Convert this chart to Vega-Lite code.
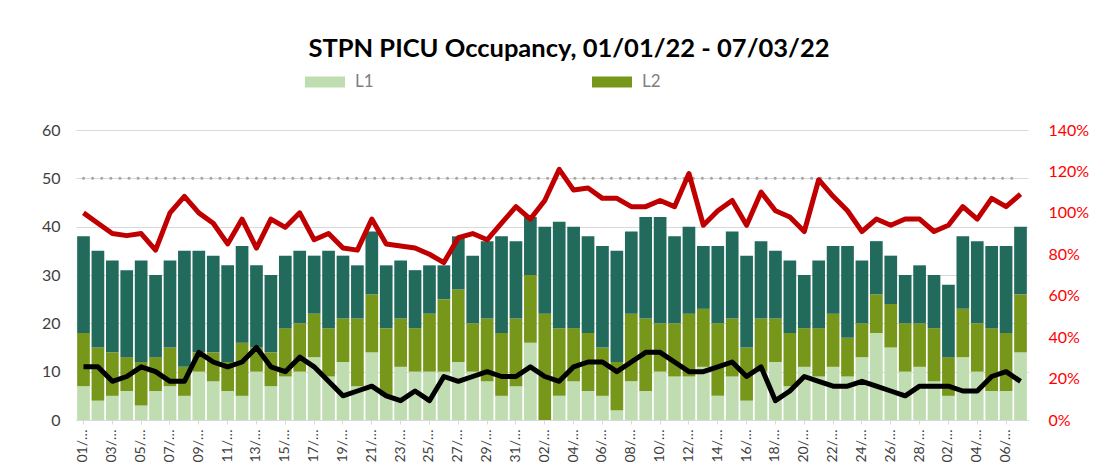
{
  "$schema": "https://vega.github.io/schema/vega-lite/v6.json",
  "width": 952,
  "height": 290,
  "autosize": {"type": "none"},
  "padding": {"left": 76, "top": 130, "right": 87, "bottom": 50},
  "background": "white",
  "config": {
    "font": "Lato",
    "view": {"stroke": null}
  },
  "title": {
    "text": "STPN PICU Occupancy, 01/01/22 - 07/03/22",
    "font": "Lato",
    "fontSize": 25.5,
    "fontWeight": "bold",
    "color": "#000000",
    "anchor": "middle",
    "dx": 17,
    "offset": 0
  },
  "data": {
    "values": [
      {"d": "01/01/22", "L1": 7, "L2": 11, "L3": 20, "count": 11, "occupancy": 1.00, "cap": 50},
      {"d": "02/01/22", "L1": 4, "L2": 11, "L3": 20, "count": 11, "occupancy": 0.95, "cap": 50},
      {"d": "03/01/22", "L1": 5, "L2": 9, "L3": 19, "count": 8, "occupancy": 0.90, "cap": 50},
      {"d": "04/01/22", "L1": 6, "L2": 7, "L3": 18, "count": 9, "occupancy": 0.89, "cap": 50},
      {"d": "05/01/22", "L1": 3, "L2": 9, "L3": 21, "count": 11, "occupancy": 0.90, "cap": 50},
      {"d": "06/01/22", "L1": 6, "L2": 7, "L3": 17, "count": 10, "occupancy": 0.82, "cap": 50},
      {"d": "07/01/22", "L1": 7, "L2": 8, "L3": 18, "count": 8, "occupancy": 1.00, "cap": 50},
      {"d": "08/01/22", "L1": 5, "L2": 6, "L3": 24, "count": 8, "occupancy": 1.08, "cap": 50},
      {"d": "09/01/22", "L1": 10, "L2": 4, "L3": 21, "count": 14, "occupancy": 1.00, "cap": 50},
      {"d": "10/01/22", "L1": 8, "L2": 6, "L3": 20, "count": 12, "occupancy": 0.95, "cap": 50},
      {"d": "11/01/22", "L1": 6, "L2": 6, "L3": 20, "count": 11, "occupancy": 0.85, "cap": 50},
      {"d": "12/01/22", "L1": 5, "L2": 11, "L3": 20, "count": 12, "occupancy": 0.97, "cap": 50},
      {"d": "13/01/22", "L1": 10, "L2": 5, "L3": 17, "count": 15, "occupancy": 0.83, "cap": 50},
      {"d": "14/01/22", "L1": 7, "L2": 7, "L3": 16, "count": 11, "occupancy": 0.97, "cap": 50},
      {"d": "15/01/22", "L1": 9, "L2": 10, "L3": 15, "count": 10, "occupancy": 0.93, "cap": 50},
      {"d": "16/01/22", "L1": 10, "L2": 10, "L3": 15, "count": 13, "occupancy": 1.00, "cap": 50},
      {"d": "17/01/22", "L1": 13, "L2": 9, "L3": 12, "count": 11, "occupancy": 0.87, "cap": 50},
      {"d": "18/01/22", "L1": 9, "L2": 10, "L3": 16, "count": 8, "occupancy": 0.90, "cap": 50},
      {"d": "19/01/22", "L1": 12, "L2": 9, "L3": 13, "count": 5, "occupancy": 0.83, "cap": 50},
      {"d": "20/01/22", "L1": 7, "L2": 14, "L3": 11, "count": 6, "occupancy": 0.82, "cap": 50},
      {"d": "21/01/22", "L1": 14, "L2": 12, "L3": 13, "count": 7, "occupancy": 0.97, "cap": 50},
      {"d": "22/01/22", "L1": 5, "L2": 14, "L3": 13, "count": 5, "occupancy": 0.85, "cap": 50},
      {"d": "23/01/22", "L1": 11, "L2": 10, "L3": 12, "count": 4, "occupancy": 0.84, "cap": 50},
      {"d": "24/01/22", "L1": 10, "L2": 9, "L3": 12, "count": 6, "occupancy": 0.83, "cap": 50},
      {"d": "25/01/22", "L1": 10, "L2": 12, "L3": 10, "count": 4, "occupancy": 0.80, "cap": 50},
      {"d": "26/01/22", "L1": 10, "L2": 15, "L3": 7, "count": 9, "occupancy": 0.76, "cap": 50},
      {"d": "27/01/22", "L1": 12, "L2": 15, "L3": 11, "count": 8, "occupancy": 0.88, "cap": 50},
      {"d": "28/01/22", "L1": 10, "L2": 10, "L3": 14, "count": 9, "occupancy": 0.90, "cap": 50},
      {"d": "29/01/22", "L1": 8, "L2": 13, "L3": 16, "count": 10, "occupancy": 0.87, "cap": 50},
      {"d": "30/01/22", "L1": 5, "L2": 13, "L3": 20, "count": 9, "occupancy": 0.95, "cap": 50},
      {"d": "31/01/22", "L1": 7, "L2": 14, "L3": 16, "count": 9, "occupancy": 1.03, "cap": 50},
      {"d": "01/02/22", "L1": 16, "L2": 14, "L3": 12, "count": 11, "occupancy": 0.97, "cap": 50},
      {"d": "02/02/22", "L1": 0, "L2": 22, "L3": 18, "count": 9, "occupancy": 1.06, "cap": 50},
      {"d": "03/02/22", "L1": 5, "L2": 14, "L3": 22, "count": 8, "occupancy": 1.21, "cap": 50},
      {"d": "04/02/22", "L1": 8, "L2": 11, "L3": 21, "count": 11, "occupancy": 1.11, "cap": 50},
      {"d": "05/02/22", "L1": 6, "L2": 12, "L3": 20, "count": 12, "occupancy": 1.12, "cap": 50},
      {"d": "06/02/22", "L1": 5, "L2": 10, "L3": 21, "count": 12, "occupancy": 1.07, "cap": 50},
      {"d": "07/02/22", "L1": 2, "L2": 10, "L3": 23, "count": 10, "occupancy": 1.07, "cap": 50},
      {"d": "08/02/22", "L1": 8, "L2": 14, "L3": 17, "count": 12, "occupancy": 1.03, "cap": 50},
      {"d": "09/02/22", "L1": 6, "L2": 15, "L3": 21, "count": 14, "occupancy": 1.03, "cap": 50},
      {"d": "10/02/22", "L1": 10, "L2": 10, "L3": 22, "count": 14, "occupancy": 1.06, "cap": 50},
      {"d": "11/02/22", "L1": 9, "L2": 11, "L3": 18, "count": 12, "occupancy": 1.03, "cap": 50},
      {"d": "12/02/22", "L1": 9, "L2": 13, "L3": 18, "count": 10, "occupancy": 1.19, "cap": 50},
      {"d": "13/02/22", "L1": 11, "L2": 12, "L3": 13, "count": 10, "occupancy": 0.94, "cap": 50},
      {"d": "14/02/22", "L1": 5, "L2": 15, "L3": 16, "count": 11, "occupancy": 1.01, "cap": 50},
      {"d": "15/02/22", "L1": 9, "L2": 12, "L3": 18, "count": 12, "occupancy": 1.06, "cap": 50},
      {"d": "16/02/22", "L1": 4, "L2": 11, "L3": 19, "count": 9, "occupancy": 0.94, "cap": 50},
      {"d": "17/02/22", "L1": 10, "L2": 11, "L3": 16, "count": 11, "occupancy": 1.10, "cap": 50},
      {"d": "18/02/22", "L1": 12, "L2": 9, "L3": 14, "count": 4, "occupancy": 1.01, "cap": 50},
      {"d": "19/02/22", "L1": 7, "L2": 11, "L3": 15, "count": 6, "occupancy": 0.98, "cap": 50},
      {"d": "20/02/22", "L1": 11, "L2": 8, "L3": 11, "count": 9, "occupancy": 0.91, "cap": 50},
      {"d": "21/02/22", "L1": 9, "L2": 10, "L3": 14, "count": 8, "occupancy": 1.16, "cap": 50},
      {"d": "22/02/22", "L1": 11, "L2": 11, "L3": 14, "count": 7, "occupancy": 1.08, "cap": 50},
      {"d": "23/02/22", "L1": 9, "L2": 8, "L3": 19, "count": 7, "occupancy": 1.01, "cap": 50},
      {"d": "24/02/22", "L1": 13, "L2": 7, "L3": 13, "count": 8, "occupancy": 0.91, "cap": 50},
      {"d": "25/02/22", "L1": 18, "L2": 8, "L3": 11, "count": 7, "occupancy": 0.97, "cap": 50},
      {"d": "26/02/22", "L1": 15, "L2": 9, "L3": 10, "count": 6, "occupancy": 0.94, "cap": 50},
      {"d": "27/02/22", "L1": 10, "L2": 10, "L3": 10, "count": 5, "occupancy": 0.97, "cap": 50},
      {"d": "28/02/22", "L1": 11, "L2": 9, "L3": 12, "count": 7, "occupancy": 0.97, "cap": 50},
      {"d": "01/03/22", "L1": 8, "L2": 11, "L3": 11, "count": 7, "occupancy": 0.91, "cap": 50},
      {"d": "02/03/22", "L1": 5, "L2": 8, "L3": 15, "count": 7, "occupancy": 0.94, "cap": 50},
      {"d": "03/03/22", "L1": 13, "L2": 10, "L3": 15, "count": 6, "occupancy": 1.03, "cap": 50},
      {"d": "04/03/22", "L1": 10, "L2": 10, "L3": 17, "count": 6, "occupancy": 0.97, "cap": 50},
      {"d": "05/03/22", "L1": 6, "L2": 13, "L3": 17, "count": 9, "occupancy": 1.07, "cap": 50},
      {"d": "06/03/22", "L1": 6, "L2": 12, "L3": 18, "count": 10, "occupancy": 1.03, "cap": 50},
      {"d": "07/03/22", "L1": 14, "L2": 12, "L3": 14, "count": 8, "occupancy": 1.09, "cap": 50}
    ]
  },
  "encoding": {
    "x": {
      "field": "d",
      "type": "nominal",
      "sort": null,
      "title": null,
      "scale": {"paddingInner": 0.12, "paddingOuter": 0.08},
      "axis": {
        "values": ["01/01/22", "03/01/22", "05/01/22", "07/01/22", "09/01/22", "11/01/22", "13/01/22", "15/01/22", "17/01/22", "19/01/22", "21/01/22", "23/01/22", "25/01/22", "27/01/22", "29/01/22", "31/01/22", "02/02/22", "04/02/22", "06/02/22", "08/02/22", "10/02/22", "12/02/22", "14/02/22", "16/02/22", "18/02/22", "20/02/22", "22/02/22", "24/02/22", "26/02/22", "28/02/22", "02/03/22", "04/03/22", "06/03/22"],
        "labelExpr": "slice(datum.label, 0, 3) + '…'",
        "labelAngle": -90,
        "labelFontSize": 14,
        "labelColor": "#404040",
        "labelPadding": 5,
        "domainColor": "#D9D9D9",
        "domainWidth": 1,
        "tickColor": "#D9D9D9",
        "tickSize": 4,
        "ticks": true
      }
    }
  },
  "layer": [
    {
      "layer": [
        {
          "transform": [{"fold": ["L1", "L2", "L3"], "as": ["level", "patients"]}],
          "mark": {"type": "bar"},
          "encoding": {
            "y": {
              "field": "patients",
              "type": "quantitative",
              "stack": "zero",
              "scale": {"domain": [0, 60]},
              "title": null,
              "axis": {
                "values": [0, 10, 20, 30, 40, 50, 60],
                "labelFontSize": 16,
                "labelColor": "#404040",
                "labelPadding": 16,
                "domain": false,
                "ticks": false,
                "gridColor": "#D9D9D9",
                "gridWidth": 1
              }
            },
            "color": {
              "field": "level",
              "type": "nominal",
              "scale": {"domain": ["L1", "L2", "L3"], "range": ["#BFDDB0", "#76971A", "#216A5C"]},
              "legend": {
                "values": ["L1", "L2"],
                "title": null,
                "orient": "none",
                "direction": "horizontal",
                "legendX": 229,
                "legendY": -68,
                "symbolType": "M-1,-0.275H1V0.275H-1Z",
                "symbolSize": 1600,
                "symbolStrokeWidth": 0,
                "labelFontSize": 17,
                "labelColor": "#7F7F7F",
                "labelOffset": 10,
                "columnPadding": 218
              }
            },
            "order": {"field": "level", "type": "nominal", "sort": "ascending"}
          }
        },
        {
          "mark": {"type": "line", "color": "#A6A6A6", "strokeWidth": 3, "strokeDash": [0.1, 9], "strokeCap": "round"},
          "encoding": {
            "y": {"field": "cap", "type": "quantitative", "title": null}
          }
        },
        {
          "mark": {"type": "line", "color": "#000000", "strokeWidth": 5, "strokeJoin": "round"},
          "encoding": {
            "y": {"field": "count", "type": "quantitative", "title": null}
          }
        }
      ]
    },
    {
      "mark": {"type": "line", "color": "#C00000", "strokeWidth": 5, "strokeJoin": "round"},
      "encoding": {
        "y": {
          "field": "occupancy",
          "type": "quantitative",
          "title": null,
          "scale": {"domain": [0, 1.4]},
          "axis": {
            "orient": "right",
            "values": [0, 0.2, 0.4, 0.6, 0.8, 1.0, 1.2, 1.4],
            "format": ".0%",
            "labelFontSize": 16,
            "labelColor": "#FF0000",
            "labelPadding": 20,
            "domain": false,
            "ticks": false,
            "grid": false
          }
        }
      }
    }
  ],
  "resolve": {"scale": {"y": "independent"}}
}
